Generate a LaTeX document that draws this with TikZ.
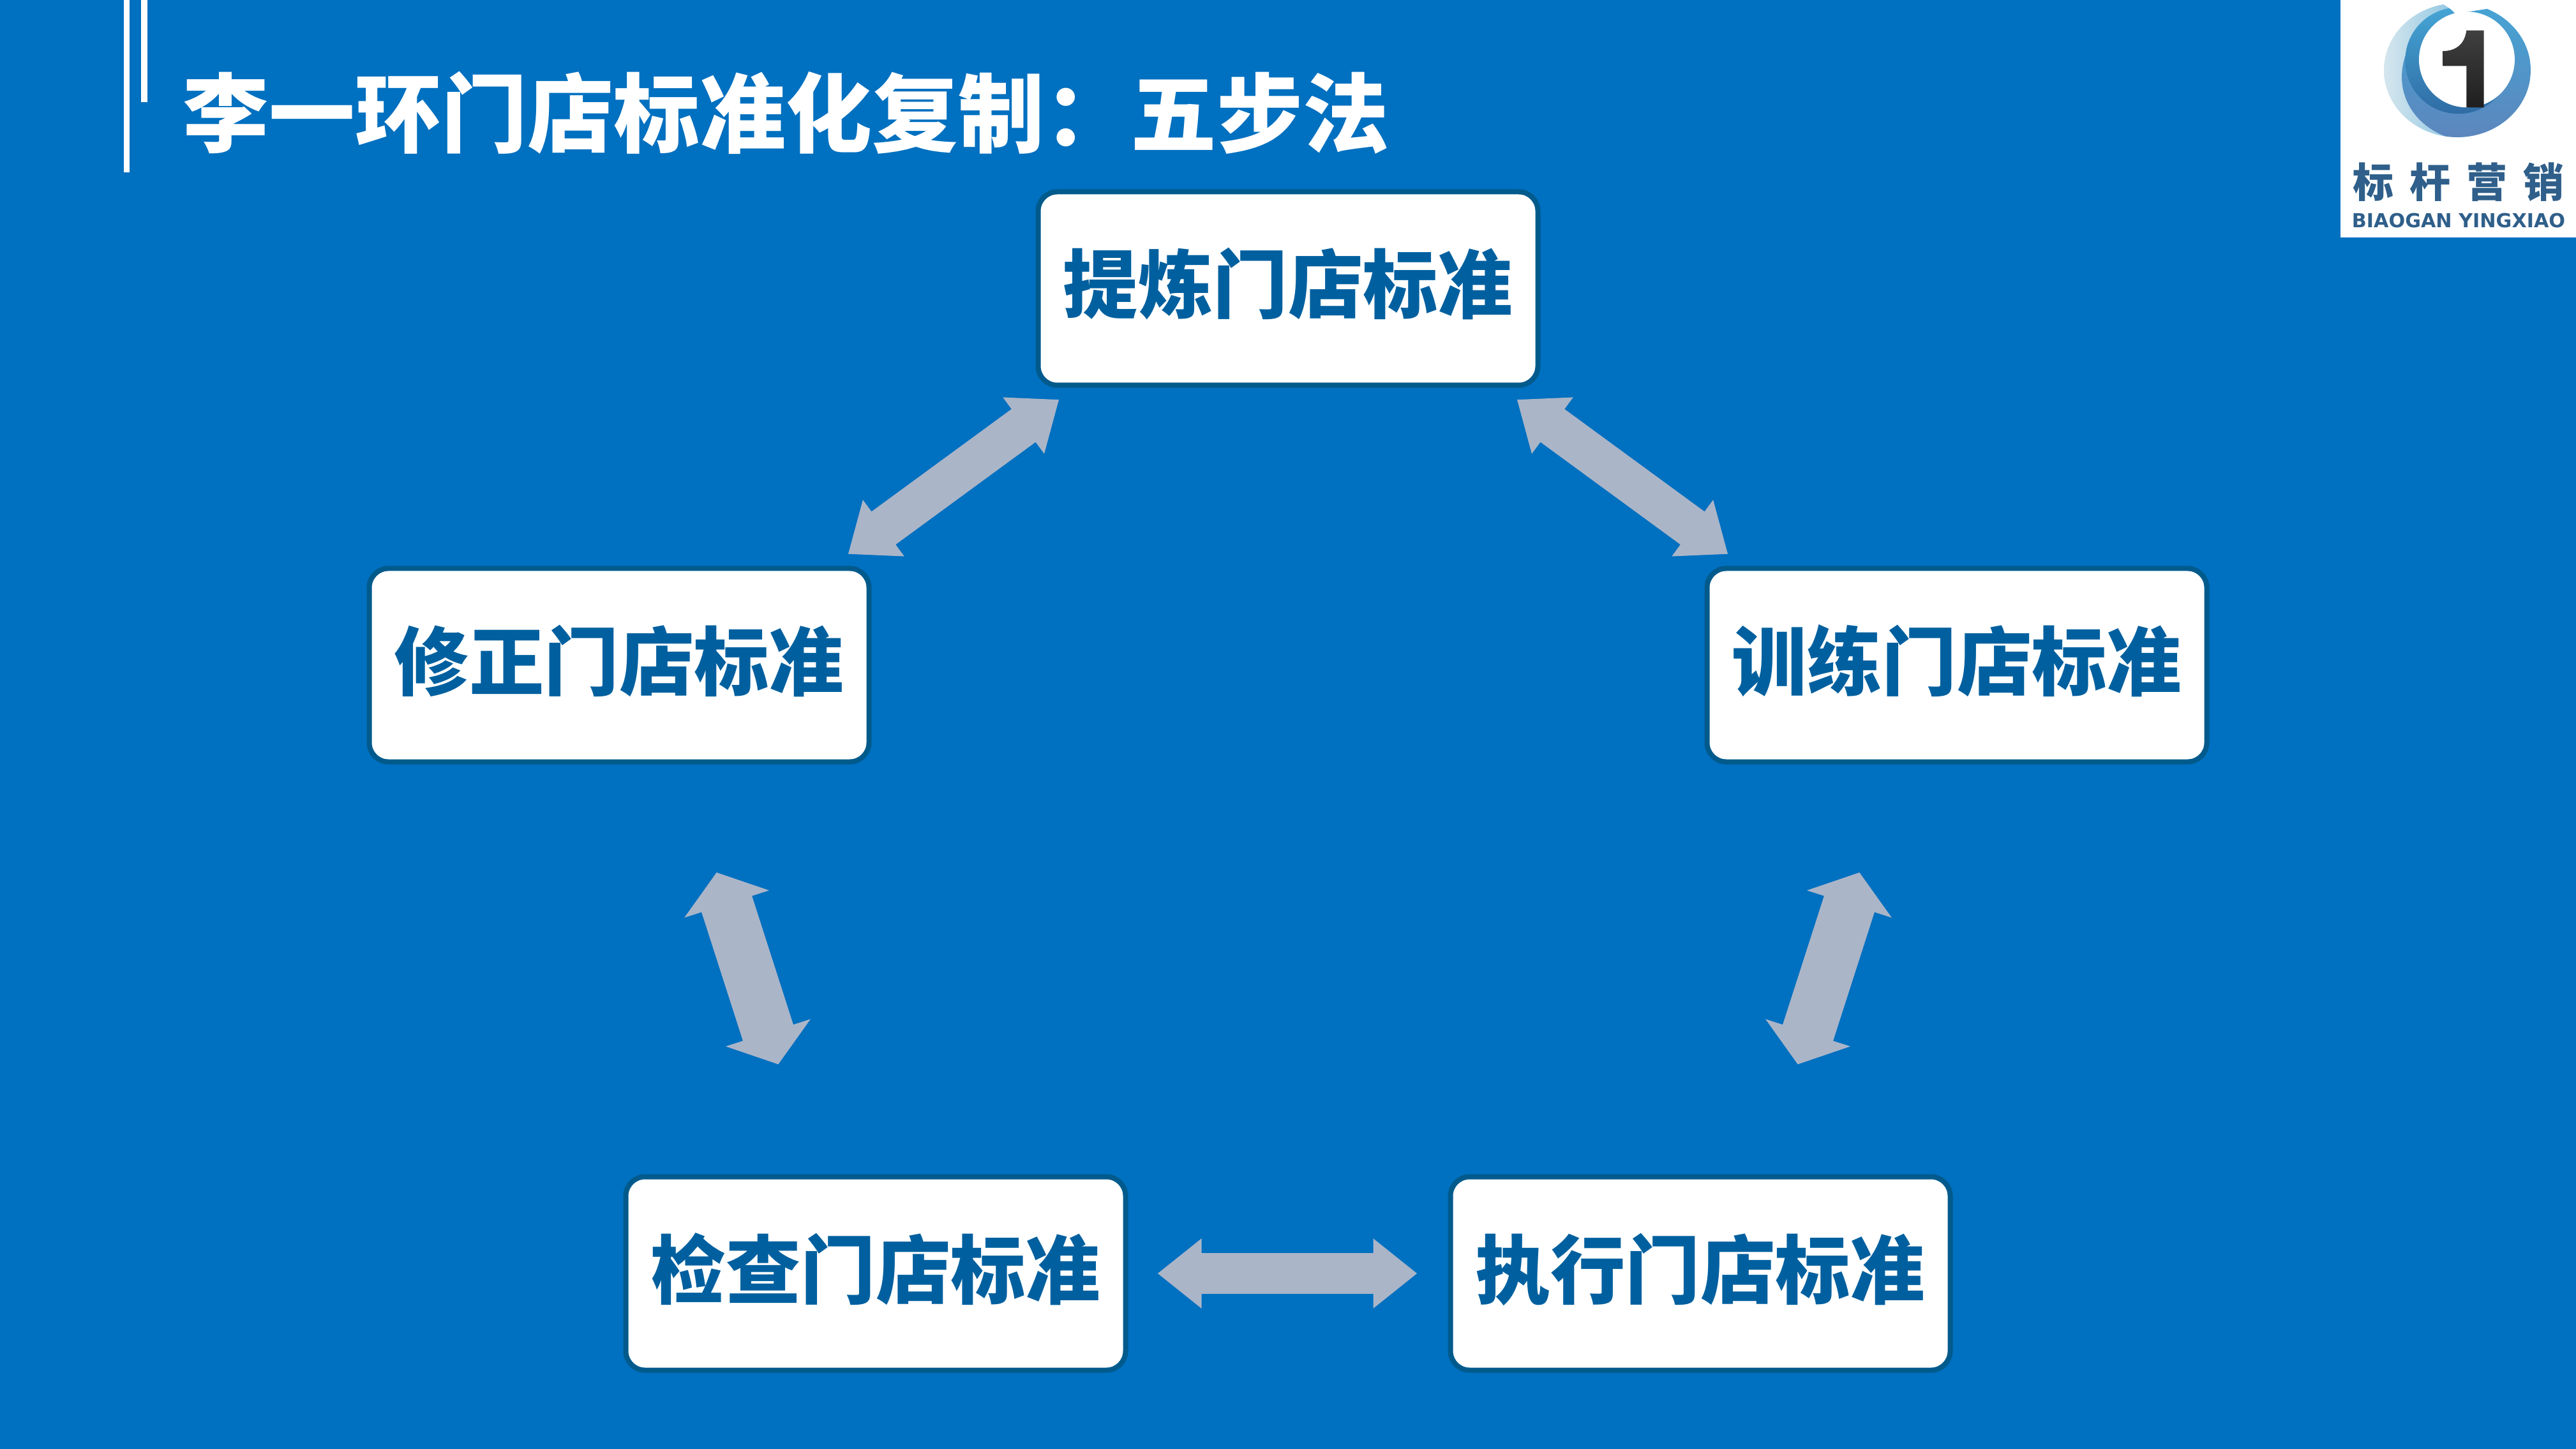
\documentclass[tikz,border=0pt]{standalone}
\usepackage{fontspec}
\usetikzlibrary{arrows.meta, positioning, calc}

\newfontfamily\cjk{Noto Sans CJK SC Black}
\newfontfamily\logolatin{DejaVu Sans Bold}

\definecolor{bgblue}{HTML}{0070C0}
\definecolor{boxline}{HTML}{005A8C}
\definecolor{boxtext}{HTML}{00609F}
\definecolor{arrowgray}{HTML}{AAB5C8}
\definecolor{logotext}{HTML}{2F5F8A}
\definecolor{logopale}{HTML}{D5E6EE}
\definecolor{logomid}{HTML}{45A5D5}
\definecolor{logolow}{HTML}{5C86BD}
\definecolor{logodeep}{HTML}{2F6CA5}
\definecolor{logoone}{HTML}{6F6660}

\begin{document}
\begin{tikzpicture}[align=center,
    stepbox/.style={draw=boxline, line width=0.08cm, fill=white, rounded corners=0.3cm, outer sep=0pt,
      minimum width=7.83cm, minimum height=3.03cm, text=boxtext, text height=1.0cm, text depth=0.24cm,
      font=\cjk\fontsize{33.4}{33.4}\selectfont},
    twoway/.style={draw=arrowgray, line width=0.64cm,
      {Triangle[length=0.69cm, width=1.05cm]}-{Triangle[length=0.69cm, width=1.05cm]}},
    twowide/.style={draw=arrowgray, line width=0.83cm,
      {Triangle[length=0.52cm, width=1.37cm]}-{Triangle[length=0.52cm, width=1.37cm]}}]
    \useasboundingbox (0,0) rectangle (40.36,-22.70);
    \fill[bgblue] (0,0) rectangle (40.36,-22.70);

    % title and its two bars
    \fill[white] (1.94,0) rectangle (2.03,-2.70);
    \fill[white] (2.21,0) rectangle (2.31,-1.60);
    \node [anchor=west, inner sep=0pt, text=white, font=\cjk\fontsize{38.4}{38.4}\selectfont] (titulo) at (2.86,-1.77)
      {李一环门店标准化复制：五步法};

    % the five steps
    \node [stepbox] (tilian) at (20.18,-4.52) {提炼门店标准};
    \node [stepbox, below left=2.87cm and 2.65cm of tilian] (xiuzheng) {修正门店标准};
    \node [stepbox, below right=2.87cm and 2.65cm of tilian] (xunlian) {训练门店标准};
    \node [stepbox, below right=6.50cm and -3.81cm of xiuzheng] (jiancha) {检查门店标准};
    \node [stepbox, right=5.09cm of jiancha] (zhixing) {执行门店标准};

    \draw[twoway, shorten <=0.38cm, shorten >=0.38cm] ($(tilian.south)+(-3.28,0)$) -- ($(xiuzheng.north)+(3.28,0)$);
    \draw[twoway, shorten <=0.38cm, shorten >=0.38cm] ($(tilian.south)+(3.28,0)$) -- ($(xunlian.north)+(-3.28,0)$);
    \draw[twowide, shorten <=1.82cm, shorten >=1.85cm] ($(xiuzheng.south)+(0.97,0)$) -- ($(jiancha.north)+(-0.96,0)$);
    \draw[twowide, shorten <=1.82cm, shorten >=1.85cm] ($(xunlian.south)+(-0.97,0)$) -- ($(zhixing.north)+(0.96,0)$);
    \draw[twoway, shorten <=0.50cm, shorten >=0.52cm] (jiancha) -- (zhixing);

    % logo
    \fill[white] (36.67,0) rectangle (40.36,-3.72);
    \begin{scope}[shift={(36,0)}, x=0.03333mm, y=-0.03333mm]
      \shade[left color=logopale, right color=logomid] (750,330) ellipse [x radius=345, y radius=315];
      \begin{scope}
        \clip (750,330) ellipse [x radius=345, y radius=315];
        \shade[top color=logomid, middle color=logomid, bottom color=logolow]
          (735,75) .. controls (600,100) and (500,200) .. (490,340)
          .. controls (480,470) and (560,600) .. (720,650) -- (1100,650) -- (1100,0) -- (735,0) -- cycle;
      \end{scope}
      \shade[top color=logomid, bottom color=logodeep] (755,285) circle [radius=250];
      \fill[white] (795,280) circle [radius=225];
      \fill[white] (745,70) .. controls (725,45) and (700,25) .. (660,10) -- (900,0) -- (900,40) -- (795,56) -- cycle;
      \shade[top color=black!75, middle color=logoone, bottom color=black!88]
        (793,143) .. controls (785,210) and (740,240) .. (683,240)
        -- (683,310) -- (793,310) -- (793,505) -- (875,505) -- (875,143) -- cycle;
    \end{scope}
    \node [inner sep=0pt, text=logotext, font=\cjk\fontsize{18.2}{18.2}\selectfont] (logocn) at (38.52,-2.85)
      {标\hspace{0.25cm}杆\hspace{0.25cm}营\hspace{0.25cm}销};
    \node [inner sep=0pt, text=logotext, font=\logolatin\fontsize{8.6}{8.6}\selectfont] (logoen) at (38.52,-3.46)
      {BIAOGAN YINGXIAO};
  \end{tikzpicture}
\end{document}
